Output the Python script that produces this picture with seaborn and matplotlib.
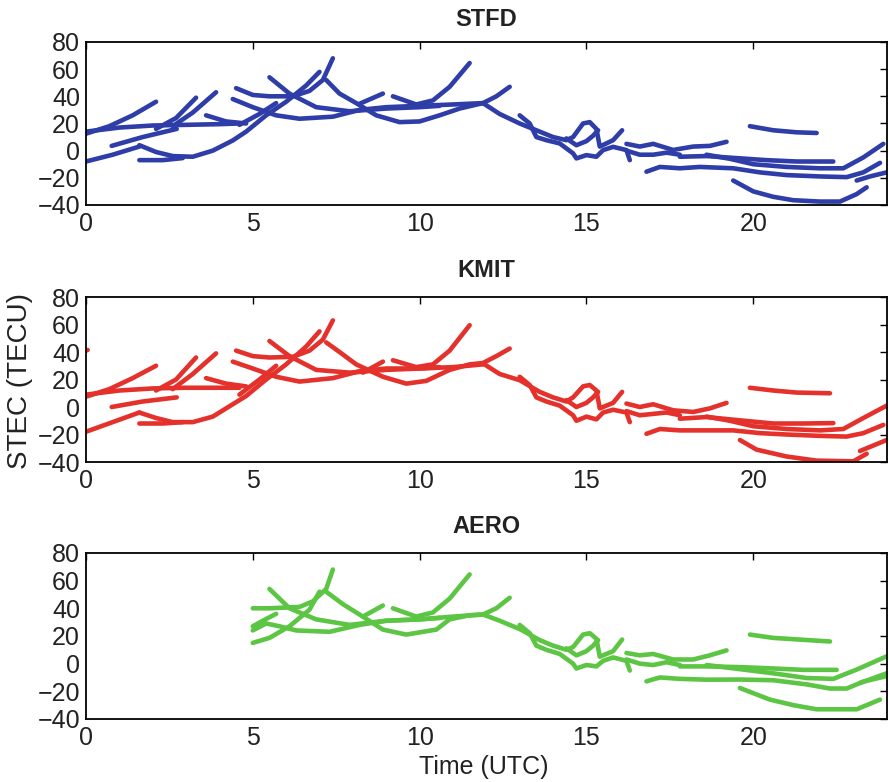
import matplotlib
matplotlib.use("Agg")
import matplotlib.pyplot as plt
import pandas as pd
import seaborn as sns

STATIONS = ["STFD", "KMIT", "AERO"]
COLORS = ["#2E3DA8", "#E5312B", "#5DC544"]
X_TICKS = [0, 5, 10, 15, 20]
Y_TICKS = [-40, -20, 0, 20, 40, 60, 80]

# Each arc: list of (time UTC, STEC TECU)
STFD_ARCS = [
    [(0, 12.5), (0.7, 18), (1.4, 26), (2.1, 36)],
    [(0, 14), (1.0, 17), (2.0, 18.5), (3.0, 19), (4.0, 19.5), (4.6, 20)],
    [(0, -8), (0.8, -3), (1.6, 3)],
    [(0.77, 3.5), (1.7, 10), (2.72, 16)],
    [(1.6, 4), (2.1, -1), (2.6, -4), (3.2, -4.5), (3.8, 0), (4.4, 7.5), (4.8, 14), (5.4, 26), (6.0, 36), (6.6, 48), (7.0, 58)],
    [(1.6, -7), (2.3, -7), (2.9, -5.5)],
    [(2.1, 16), (2.7, 24), (3.3, 39)],
    [(2.6, 18), (3.2, 28), (3.9, 43)],
    [(3.6, 26), (4.2, 21.5), (4.8, 20)],
    [(4.6, 19), (5.2, 27), (5.7, 35)],
    [(4.5, 46), (5.0, 41), (5.5, 40), (6.2, 40), (6.7, 44), (7.1, 52), (7.4, 68)],
    [(4.4, 38), (5.0, 32), (5.7, 26), (6.4, 23.5), (7.4, 25), (8.2, 30), (9.0, 32), (10.0, 33), (11.0, 34), (11.9, 35)],
    [(5.5, 54), (6.1, 42), (6.9, 32), (7.9, 29), (9.0, 31), (10.0, 32), (10.6, 33)],
    [(7.2, 52), (7.6, 42), (8.1, 35), (8.7, 26), (9.4, 21), (10.0, 21.5), (10.6, 26), (11.2, 31), (11.9, 35), (12.3, 40), (12.7, 47)],
    [(9.2, 40), (9.9, 34), (10.4, 37), (10.9, 47), (11.5, 64.5)],
    [(8.2, 34.5), (8.9, 42)],
    [(11.9, 35), (12.4, 27), (13.0, 20), (13.6, 14), (14.0, 10), (14.4, 7.7), (14.6, 10), (14.9, 20), (15.1, 21), (15.3, 16), (15.4, 3), (15.8, 7.7), (16.07, 15)],
    [(13.0, 26), (13.3, 20), (13.5, 10), (13.8, 7.7), (14.2, 5.3), (14.6, -2), (14.7, -5.7), (15.0, -3.3), (15.3, -4.5), (15.5, 0.4), (15.8, 2.8), (16.2, 0.4), (16.3, -7)],
    [(14.4, 9), (14.7, 4), (15.0, 7), (15.2, 11), (15.35, 15)],
    [(16.2, 5), (16.6, 3), (17.0, 5), (17.6, 0.5), (18.2, 3), (18.7, 3.5), (19.2, 6.5)],
    [(16.2, 0), (16.6, -3), (17.0, -3), (17.4, -1.5), (17.8, -3)],
    [(17.8, -4.5), (18.6, -4), (19.5, -5.5), (20.4, -7), (21.3, -8), (22.4, -8)],
    [(18.6, -3), (19.3, -6), (20.0, -10), (21.0, -12), (22.0, -13), (22.7, -13), (23.3, -5), (23.9, 5)],
    [(16.8, -15.5), (17.2, -12), (17.8, -13), (18.4, -12), (19.4, -13), (20.2, -16), (21.0, -18), (22.0, -19), (22.8, -19.5), (23.3, -16), (23.8, -9)],
    [(23.1, -22), (23.5, -19), (24, -16)],
    [(19.4, -22), (20.0, -30), (20.6, -34), (21.2, -36.5), (22.0, -37.5), (22.6, -37.5), (23.1, -32), (23.4, -27)],
    [(19.9, 18), (20.6, 15), (21.3, 13.5), (21.9, 13)],
]

KMIT_ARCS = [
    [(0, 41), (0.05, 41.5)],
    [(0, 7.5), (0.7, 13), (1.4, 21), (2.1, 30)],
    [(0, 9), (1.0, 12), (2.0, 13.5), (3.0, 14), (4.0, 14), (4.6, 14)],
    [(0, -18), (0.8, -11), (1.6, -4)],
    [(0.77, 0), (1.7, 4), (2.72, 7)],
    [(1.6, -4), (2.1, -8), (2.6, -11), (3.2, -11), (3.8, -7), (4.4, 2), (4.8, 8), (5.4, 20), (6.0, 31), (6.6, 44), (7.0, 55)],
    [(1.6, -12), (2.3, -12), (2.9, -11)],
    [(2.1, 12), (2.7, 20), (3.3, 36)],
    [(2.6, 13), (3.2, 24), (3.9, 39)],
    [(3.6, 21), (4.2, 17), (4.8, 15)],
    [(4.6, 9), (5.2, 20), (5.7, 30)],
    [(4.5, 41), (5.0, 37), (5.5, 36), (6.2, 36.5), (6.7, 41), (7.1, 49), (7.4, 63)],
    [(4.4, 33), (5.0, 28), (5.7, 22), (6.4, 18.5), (7.4, 21), (8.2, 26), (9.0, 28), (10.0, 28), (11.0, 29), (11.9, 31)],
    [(5.5, 48), (6.1, 37), (6.9, 27), (7.9, 25), (9.0, 27), (10.0, 28), (10.6, 29)],
    [(7.2, 47), (7.6, 40), (8.1, 31), (8.9, 22), (9.6, 17), (10.2, 19), (10.9, 27), (11.5, 31), (11.9, 32), (12.3, 37), (12.7, 42.5)],
    [(9.2, 34), (9.9, 29), (10.4, 31), (10.9, 41), (11.5, 59.5)],
    [(8.3, 25), (8.9, 33)],
    [(11.9, 31.7), (12.4, 24), (13.0, 19.5), (13.6, 11), (14.0, 7), (14.4, 4), (14.6, 7), (14.9, 15), (15.1, 16), (15.3, 12), (15.4, -1), (15.8, 3), (16.07, 11)],
    [(13.0, 22), (13.3, 16), (13.5, 7), (13.8, 4), (14.2, 1), (14.6, -6), (14.7, -10), (15.0, -7), (15.3, -9), (15.5, -4), (15.8, -2), (16.2, -4), (16.3, -11)],
    [(14.4, 5), (14.7, 0), (15.0, 3), (15.2, 7), (15.35, 11)],
    [(16.2, 2.5), (16.6, 0), (17.0, 2), (17.6, -2.4), (18.2, -3.6), (18.7, -1), (19.2, 3)],
    [(16.2, -3), (16.6, -6), (17.0, -5), (17.4, -4), (17.8, -6)],
    [(17.8, -8.5), (18.6, -7.3), (19.6, -9.7), (20.6, -12), (21.5, -12), (22.4, -11.7)],
    [(18.6, -7), (19.3, -10), (20.0, -14), (21.0, -16), (22.0, -17), (22.7, -16), (23.3, -8), (24, 1)],
    [(16.8, -19.5), (17.2, -16), (17.8, -17), (18.6, -17), (19.4, -17), (20.2, -19), (21.0, -20), (22.0, -21), (22.8, -21.5), (23.3, -19), (23.9, -13)],
    [(23.2, -32), (23.6, -28), (24, -24)],
    [(19.6, -24), (20.1, -31), (21.0, -36), (21.9, -39), (23.0, -39.5), (23.4, -34)],
    [(19.9, 14), (20.6, 12), (21.3, 10.5), (22.3, 10)],
]

AERO_ARCS = [
    [(5.0, 40), (5.5, 40), (6.4, 41), (6.8, 45), (7.2, 54), (7.4, 68)],
    [(5.0, 27), (5.3, 31), (5.7, 36)],
    [(5.0, 24), (5.4, 29), (5.8, 27), (6.3, 24), (7.3, 23), (8.2, 28), (9.0, 31), (10.0, 32), (11.0, 34), (11.9, 35.5)],
    [(5.0, 15), (5.5, 18.6), (6.1, 27), (6.7, 39), (7.0, 52)],
    [(5.5, 54), (6.1, 40), (6.9, 32), (7.9, 28), (9.0, 31), (10.0, 32), (10.6, 33)],
    [(7.2, 52), (7.7, 43), (8.2, 35.5), (8.9, 24.6), (9.6, 21), (10.5, 24.6), (10.9, 32), (11.5, 35), (11.9, 35.5), (12.3, 40), (12.7, 47.6)],
    [(9.2, 40), (9.9, 34), (10.4, 37), (10.9, 47), (11.5, 64.5)],
    [(8.3, 34), (8.9, 42)],
    [(11.9, 35.5), (12.4, 31), (13.0, 25), (13.6, 17), (14.0, 13), (14.4, 10), (14.6, 12), (14.9, 21), (15.1, 22), (15.3, 18), (15.4, 5), (15.8, 9), (16.07, 17.4)],
    [(13.0, 28), (13.3, 22), (13.5, 13), (13.8, 10), (14.2, 7), (14.6, 0), (14.7, -3.5), (15.0, -1), (15.3, -2), (15.5, 2), (15.8, 4.5), (16.2, 2), (16.3, -5)],
    [(14.4, 11), (14.7, 6), (15.0, 9), (15.2, 13), (15.35, 17)],
    [(16.2, 7.7), (16.6, 6), (17.0, 7), (17.6, 3), (18.2, 3), (18.7, 6), (19.2, 9.6)],
    [(16.2, 3), (16.6, 0), (17.0, -1), (17.4, 1), (17.8, -1)],
    [(17.8, -2), (18.6, -2), (19.6, -2.5), (20.6, -3.5), (21.5, -4.5), (22.5, -4.5)],
    [(18.6, -1), (19.6, -4), (20.6, -7), (21.6, -10.4), (22.4, -11), (23.1, -4.3), (24, 5.3)],
    [(16.8, -12.8), (17.2, -10), (17.8, -11), (18.6, -11.6), (19.6, -11.5), (20.6, -12), (21.6, -15), (22.3, -18), (22.8, -18), (23.3, -13), (24, -9)],
    [(23.2, -14), (24, -7)],
    [(19.6, -17.6), (20.5, -26), (21.2, -30), (21.9, -33), (23.1, -33), (23.8, -26)],
    [(19.9, 21), (20.6, 18.6), (22.3, 16)],
]

rows = []
for st, arcs in zip(STATIONS, [STFD_ARCS, KMIT_ARCS, AERO_ARCS]):
    for i, arc in enumerate(arcs):
        for t, v in arc:
            rows.append({"station": st, "arc": i, "t": t, "v": v})
df = pd.DataFrame(rows)

sns.set_theme(style="white")
plt.rcParams["font.family"] = ["Liberation Sans", "DejaVu Sans"]

fig = plt.figure(figsize=(8.89, 7.82), dpi=100)
positions = [
    [0.0967, 0.7379, 0.9007, 0.2084],
    [0.0967, 0.4092, 0.9007, 0.2110],
    [0.0967, 0.0806, 0.9007, 0.2123],
]
title_pads = [11.5, 14.5, 14.5]
axes = []
for st, col, pos, tp in zip(STATIONS, COLORS, positions, title_pads):
    ax = fig.add_axes(pos)
    sub = df[df["station"] == st]
    sns.lineplot(data=sub, x="t", y="v", units="arc", estimator=None, sort=False,
                 color=col, lw=3.3, ax=ax, legend=False,
                 solid_capstyle="round", solid_joinstyle="round")
    ax.set_xlim(0, 24)
    ax.set_ylim(-40, 80)
    ax.set_xticks(X_TICKS)
    ax.set_yticks(Y_TICKS)
    ax.tick_params(direction="in", length=5, width=1.0, top=True, right=True,
                   labelsize=18, labelcolor="#222222", color="black")
    ax.tick_params(axis="y", pad=4.3)
    ax.tick_params(axis="x", pad=5)
    for s in ax.spines.values():
        s.set_color("black")
        s.set_linewidth(1.3)
        s.set_visible(True)
    ax.set_xlabel("")
    ax.set_ylabel("")
    ax.set_title(st, fontsize=17, fontweight="bold", pad=tp, color="#222222")
    axes.append(ax)

axes[1].set_ylabel("STEC (TECU)", fontsize=20, color="#222222")
axes[1].yaxis.set_label_coords(-0.066, 0.49)
axes[2].set_xlabel("Time (UTC)", fontsize=18, color="#222222")
axes[2].xaxis.set_label_coords(0.497, -0.217)

fig.savefig("out.png", dpi=100)
